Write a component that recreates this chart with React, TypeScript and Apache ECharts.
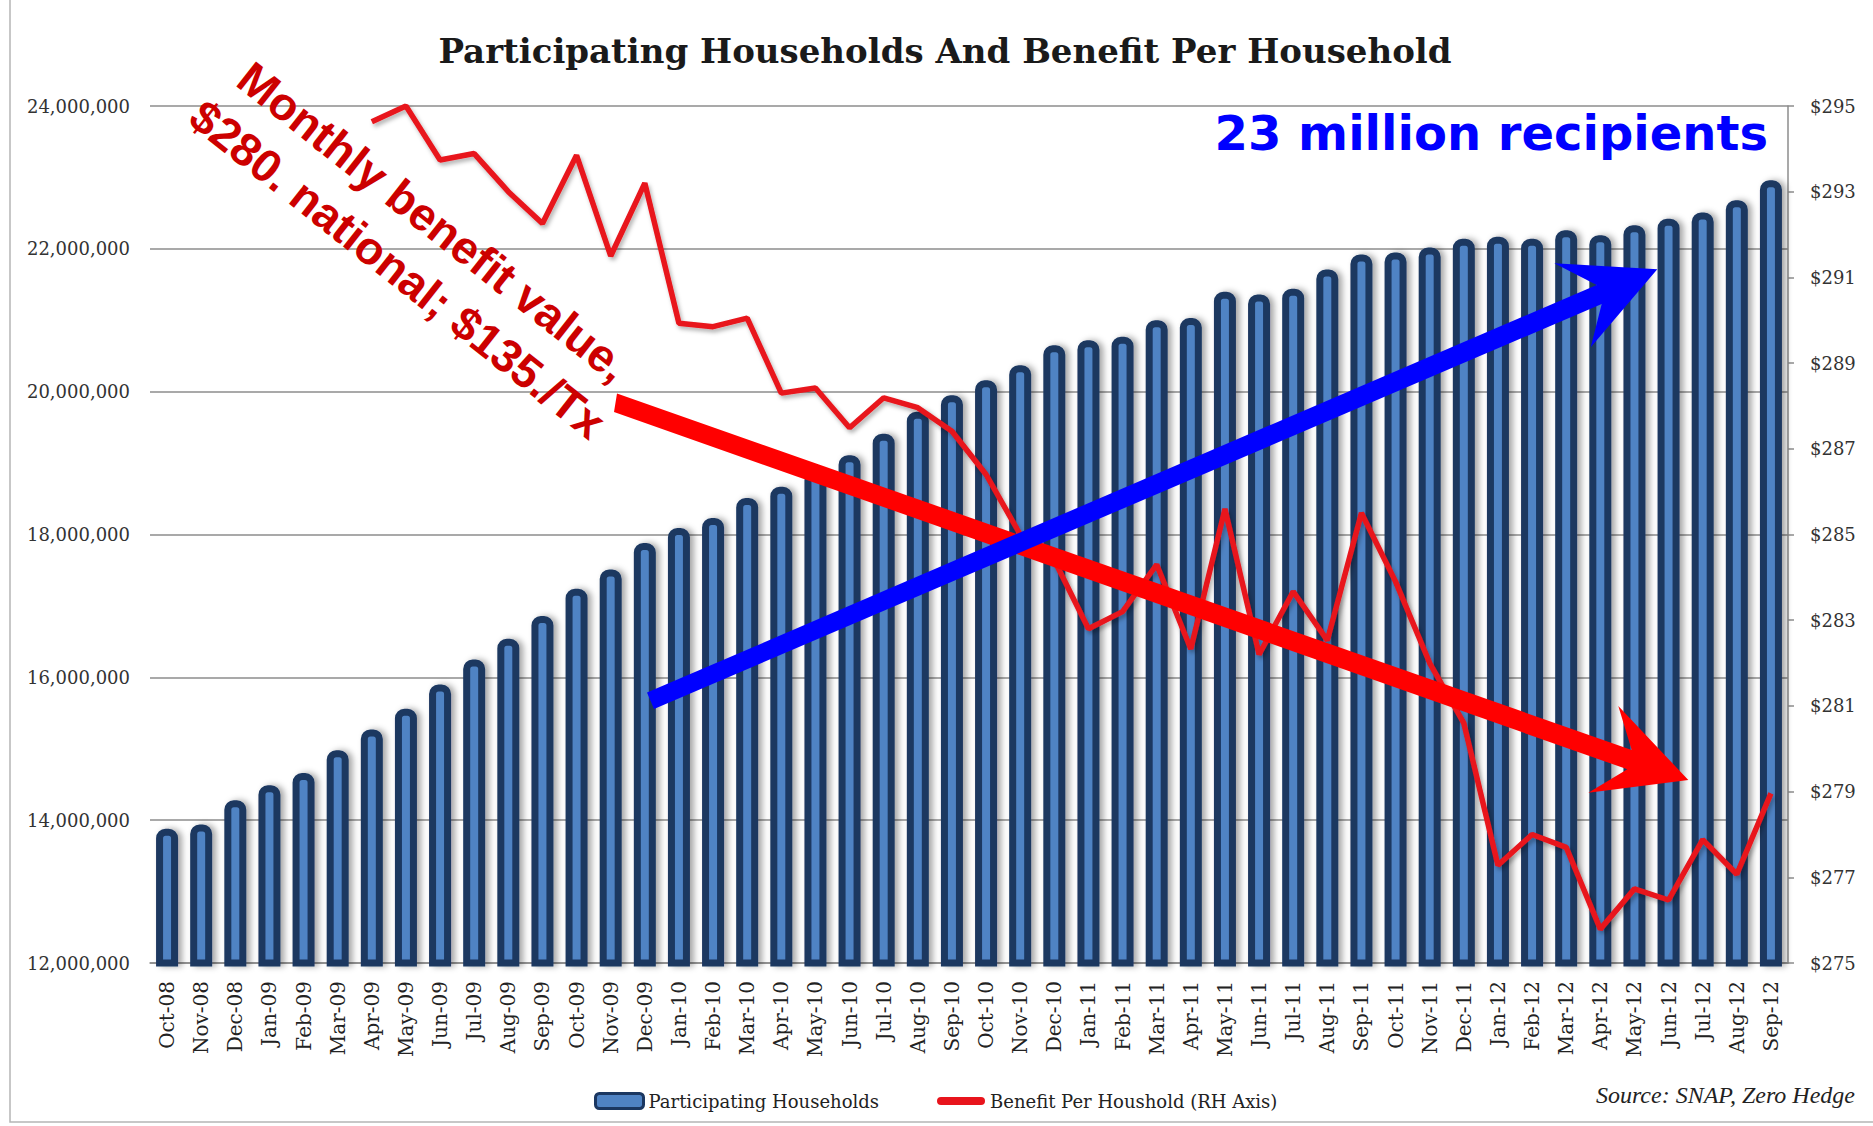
import React, { useEffect, useRef } from 'react';
import * as echarts from 'echarts';

const months = ['Oct-08','Nov-08','Dec-08','Jan-09','Feb-09','Mar-09','Apr-09','May-09','Jun-09','Jul-09','Aug-09','Sep-09','Oct-09','Nov-09','Dec-09','Jan-10','Feb-10','Mar-10','Apr-10','May-10','Jun-10','Jul-10','Aug-10','Sep-10','Oct-10','Nov-10','Dec-10','Jan-11','Feb-11','Mar-11','Apr-11','May-11','Jun-11','Jul-11','Aug-11','Sep-11','Oct-11','Nov-11','Dec-11','Jan-12','Feb-12','Mar-12','Apr-12','May-12','Jun-12','Jul-12','Aug-12','Sep-12'];

const households = [
  13880000, 13940000, 14280000,
  14490000, 14660000, 14980000, 15270000, 15560000, 15900000, 16250000, 16540000, 16860000, 17240000, 17510000, 17880000,
  18090000, 18230000, 18510000, 18670000, 18890000, 19110000, 19410000, 19720000, 19950000, 20160000, 20370000, 20650000,
  20720000, 20770000, 21000000, 21030000, 21400000, 21360000, 21440000, 21710000, 21920000, 21950000, 22020000, 22140000,
  22170000, 22140000, 22260000, 22190000, 22330000, 22420000, 22510000, 22680000, 22960000
];

const benefit = [
  null, null, null,
  null, null, null, 294.63, 295.0, 293.74, 293.89, 293.0, 292.26, 293.85, 291.5, 293.2,
  289.93, 289.85, 290.05, 288.3, 288.42, 287.49, 288.19, 287.96, 287.41, 286.4, 285.0, 284.4,
  282.8, 283.2, 284.3, 282.33, 285.6, 282.2, 283.67, 282.53, 285.5, 283.9, 282.0, 280.6,
  277.28, 278.0, 277.7, 275.79, 276.73, 276.47, 277.88, 277.07, 278.96
];

const leftTicks = { min: 12000000, max: 24000000, interval: 2000000 };
const rightTicks = { min: 275, max: 295, interval: 2 };

const titleText = 'Participating Households And Benefit Per Household';
const seriesNames = ['Participating Households', 'Benefit Per Houshold (RH Axis)'];
const noteBlue = '23 million recipients';
const noteRed1 = 'Monthly benefit value,';
const noteRed2 = '$280. national; $135./Tx';
const sourceText = 'Source: SNAP, Zero Hedge';

const fmtNum = (v: number) => String(Math.round(v)).replace(/\B(?=(\d{3})+(?!\d))/g, ',');

const lineIcon = 'path://M0,0M48,15M4,3.5L44,3.5A4,4,0,0,1,44,11.5L4,11.5A4,4,0,0,1,4,3.5Z';

export default function App() {
  const ref = useRef<HTMLDivElement>(null);
  useEffect(() => {
    if (!ref.current) return;
    const chart = echarts.init(ref.current, null, { renderer: 'svg' });
    const rot = (-38.3 * Math.PI) / 180;
    const option: any = {
      animation: false,
      backgroundColor: '#ffffff',
      grid: { left: 150, right: 85, top: 106, bottom: 163 },
      legend: {
        left: 589,
        top: 1087,
        itemWidth: 48,
        itemHeight: 15,
        itemGap: 58,
        textStyle: { fontFamily: 'DejaVu Serif', fontSize: 18, color: '#222' },
        data: [
          { name: seriesNames[0], icon: 'roundRect', itemStyle: { color: '#4f83c4', borderColor: '#1b3761', borderWidth: 3, shadowBlur: 0 } },
          { name: seriesNames[1], icon: lineIcon, itemStyle: { color: '#e8141c', borderWidth: 0 } }
        ]
      },
      xAxis: {
        type: 'category',
        data: months,
        axisLine: { show: true, lineStyle: { color: '#8c8c8c', width: 1.5 } },
        axisTick: { show: false },
        axisLabel: { rotate: 90, interval: 0, margin: 18, fontFamily: 'DejaVu Serif', fontSize: 20, color: '#222' }
      },
      yAxis: [
        {
          type: 'value',
          position: 'left',
          min: leftTicks.min,
          max: leftTicks.max,
          interval: leftTicks.interval,
          axisLine: { show: false },
          axisTick: { show: false },
          axisLabel: { formatter: (v: number) => fmtNum(v), fontFamily: 'DejaVu Serif', fontSize: 18, color: '#333', margin: 20 },
          splitLine: { show: true, lineStyle: { color: '#8c8c8c', width: 1.5 } }
        },
        {
          type: 'value',
          position: 'right',
          min: rightTicks.min,
          max: rightTicks.max,
          interval: rightTicks.interval,
          axisLine: { show: true, lineStyle: { color: '#8c8c8c', width: 1.5 } },
          axisTick: { show: true, length: 6, lineStyle: { color: '#8c8c8c', width: 1.5 } },
          axisLabel: { formatter: (v: number) => '$' + v, fontFamily: 'DejaVu Serif', fontSize: 18, color: '#333', margin: 22 },
          splitLine: { show: false }
        }
      ],
      series: [
        {
          name: seriesNames[0],
          type: 'bar',
          data: households,
          barWidth: 22,
          itemStyle: {
            color: '#4f83c4',
            borderColor: '#1b3761',
            borderWidth: 7,
            borderRadius: [6, 6, 0, 0],
            shadowColor: 'rgba(0,0,0,0.35)',
            shadowBlur: 6,
            shadowOffsetX: 4
          },
          z: 2
        },
        {
          name: seriesNames[1],
          type: 'line',
          yAxisIndex: 1,
          data: benefit,
          symbol: 'none',
          connectNulls: false,
          lineStyle: { color: '#e8141c', width: 5.5, shadowColor: 'rgba(0,0,0,0.3)', shadowBlur: 4, shadowOffsetX: 2, shadowOffsetY: 3 },
          itemStyle: { color: '#e8141c' },
          z: 3
        }
      ],
      graphic: [
        {
          type: 'rect', silent: true, z: 0,
          shape: { x: 10, y: -5, width: 1875, height: 1127 },
          style: { fill: 'none', stroke: '#b5b5b5', lineWidth: 1.5 }
        },
        {
          type: 'text', x: 945, y: 51, z: 100,
          style: { text: titleText, fontFamily: 'DejaVu Serif', fontWeight: 'bold', fontSize: 34, fill: '#1a1a1a', textAlign: 'center', textVerticalAlign: 'middle' }
        },
        {
          type: 'polygon', z: 101,
          shape: { points: [[617, 393.5], [1631.7, 750], [1618.3, 706], [1688.3, 780], [1588.3, 792.7], [1627.3, 769.3], [614, 412]] },
          style: { fill: '#ff0000' }
        },
        {
          type: 'polygon', z: 102,
          shape: { points: [[647, 692.6], [1596.7, 285], [1554.3, 263.3], [1657.3, 269.3], [1590.7, 347.3], [1601.7, 304], [654, 709]] },
          style: { fill: '#0000ff' }
        },
        {
          type: 'text', x: 1768, y: 133, z: 103,
          style: { text: noteBlue, fontFamily: 'DejaVu Sans', fontWeight: 'bold', fontSize: 48, fill: '#0000ff', textAlign: 'right', textVerticalAlign: 'middle' }
        },
        {
          type: 'text', x: 244, y: 72, rotation: rot, z: 104,
          style: { text: noteRed1, fontFamily: 'Liberation Sans', fontWeight: 'bold', fontSize: 46, fill: '#cc0000', textAlign: 'left', textVerticalAlign: 'middle' }
        },
        {
          type: 'text', x: 196, y: 110, rotation: rot, z: 104,
          style: { text: noteRed2, fontFamily: 'Liberation Sans', fontWeight: 'bold', fontSize: 46, fill: '#cc0000', textAlign: 'left', textVerticalAlign: 'middle' }
        },
        {
          type: 'text', x: 1855, y: 1095, z: 100,
          style: { text: sourceText, fontFamily: 'Liberation Serif', fontStyle: 'italic', fontSize: 24, fill: '#222', textAlign: 'right', textVerticalAlign: 'middle' }
        }
      ]
    };
    chart.setOption(option);
    return () => chart.dispose();
  }, []);
  return <div ref={ref} style={{ position: 'absolute', left: 0, top: 0, width: 1873, height: 1126 }} />;
}
